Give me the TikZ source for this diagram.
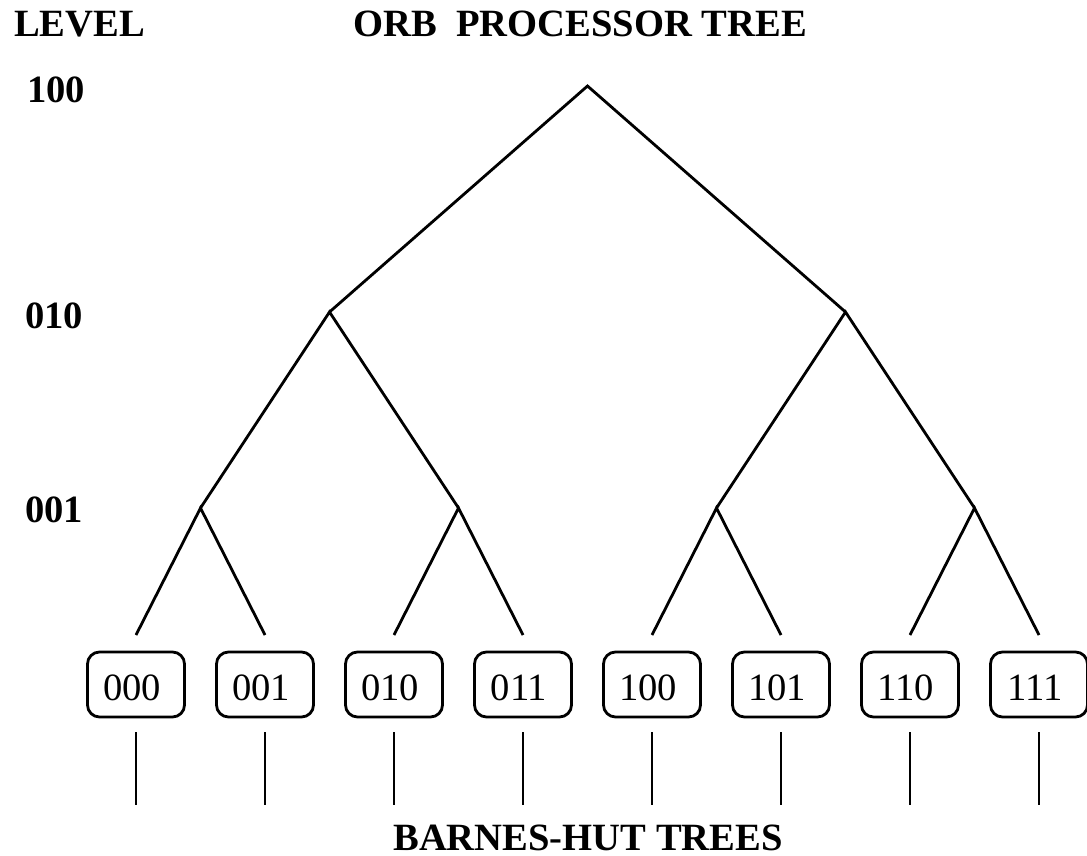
\documentclass[tikz,border=0pt]{standalone}
\usepackage{fontspec}
\setmainfont{Liberation Serif}
\begin{document}
\begin{tikzpicture}[x=1pt,y=-1pt,
  edge/.style={line width=2.8pt,line join=miter,line cap=butt},
  leafbox/.style={draw,line width=2.8pt,rounded corners=12pt,minimum width=97pt,minimum height=65pt,inner sep=0pt},
  leaflabel/.style={inner sep=0pt,anchor=base,font=\fontsize{38.6}{40}\selectfont},
  heading/.style={inner sep=0pt,text depth=0pt,anchor=base west,font=\fontsize{38.6}{40}\selectfont\bfseries}]
\useasboundingbox (0,0) rectangle (1087,856);

% headings and level labels
\node[heading] (lvl) at (14,37) {LEVEL};
\node[heading] (title) at (353,37) {ORB\ \ PROCESSOR TREE};
\node[heading] (l100) at (27,103) {100};
\node[heading] (l010) at (25,328) {010};
\node[heading] (l001) at (25,522) {001};
\node[heading,anchor=base] (bh) at (588,850) {BARNES-HUT TREES};

% processor tree branch points
\coordinate (root) at (587.5,86);
\coordinate (m0) at (329.5,312);
\coordinate (m1) at (845.5,312);
\coordinate (k0) at (200.5,508);
\coordinate (k1) at (458.5,508);
\coordinate (k2) at (716.5,508);
\coordinate (k3) at (974.5,508);

% leaves: boxes, upper stubs, lower stubs
\foreach \lab [count=\i from 0] in {000,001,010,011,100,101,110,111} {
  \pgfmathsetmacro{\xx}{136+129*\i}
  \coordinate (t\lab) at (\xx,635);
  \node[leafbox] (b\lab) at (\xx,684.5) {};
  \node[leaflabel] (n\lab) at (\xx-4,700) {\lab};
  \coordinate (u\lab) at (\xx,732);
  \coordinate (v\lab) at (\xx,805);
  \draw[edge] (u\lab) -- (v\lab);
}

% tree edges
\draw[edge] (m0) -- (root) -- (m1);
\draw[edge] (k0) -- (m0) -- (k1);
\draw[edge] (k2) -- (m1) -- (k3);
\draw[edge] (t000) -- (k0) -- (t001);
\draw[edge] (t010) -- (k1) -- (t011);
\draw[edge] (t100) -- (k2) -- (t101);
\draw[edge] (t110) -- (k3) -- (t111);
\end{tikzpicture}
\end{document}
